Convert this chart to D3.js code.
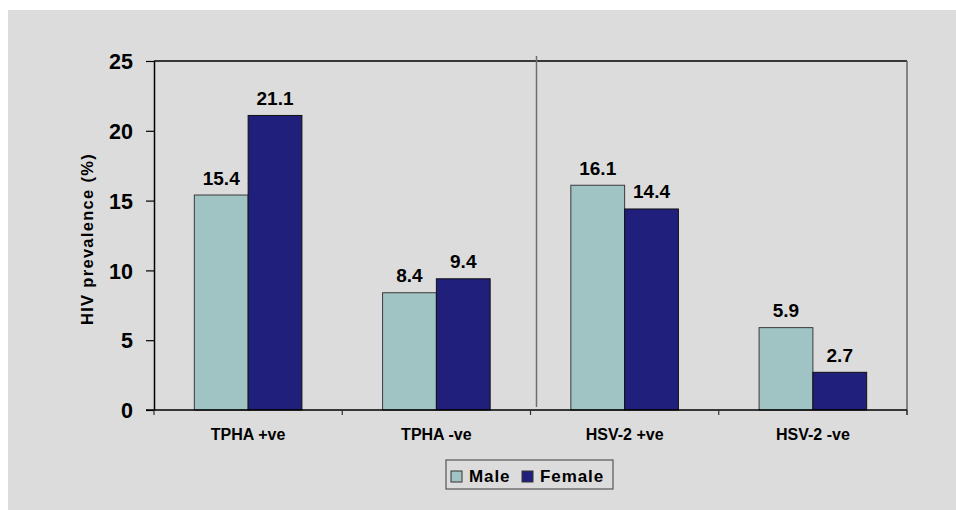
<!DOCTYPE html>
<html>
<head>
<meta charset="utf-8">
<script src="https://cdn.jsdelivr.net/npm/d3@7"></script>
<style>
  body { margin: 0; background: #fff; }
  svg { display: block; font-family: "Liberation Sans", Arial, sans-serif; font-weight: bold; }
</style>
</head>
<body>
<svg id="chart"></svg>
<script>
const categories = ["TPHA +ve", "TPHA -ve", "HSV-2 +ve", "HSV-2 -ve"];
const seriesNames = ["Male", "Female"];
const male = [15.4, 8.4, 16.1, 5.9];
const female = [21.1, 9.4, 14.4, 2.7];
const yTicks = [0, 5, 10, 15, 20, 25];

const colors = { Male: "#A0C3C4", Female: "#201F7B" };

const svg = d3.select("#chart")
    .attr("width", 956)
    .attr("height", 510);

// gray slide area
svg.append("rect")
    .attr("x", 8).attr("y", 10)
    .attr("width", 948).attr("height", 500)
    .attr("fill", "#DCDCDC");

const plotLeft = 154, plotRight = 907, plotTop = 61, plotBottom = 410;

const x = d3.scaleBand()
    .domain(categories)
    .range([plotLeft, plotRight])
    .paddingInner(0)
    .paddingOuter(0);

const xInner = d3.scaleBand()
    .domain(seriesNames)
    .range([0, x.bandwidth()])
    .paddingInner(0)
    .paddingOuter(0.75);

const y = d3.scaleLinear()
    .domain([0, 25])
    .range([plotBottom, plotTop]);

// frame: top black line, right gray line
svg.append("line")
    .attr("x1", plotLeft).attr("x2", plotRight)
    .attr("y1", plotTop).attr("y2", plotTop)
    .attr("stroke", "#000").attr("stroke-width", 1.5);
svg.append("line")
    .attr("x1", plotRight).attr("x2", plotRight)
    .attr("y1", plotTop).attr("y2", plotBottom + 5)
    .attr("stroke", "#666").attr("stroke-width", 1.5);

// divider between TPHA and HSV-2 groups
const divX = x(categories[2]) + 6;
svg.append("line")
    .attr("x1", divX).attr("x2", divX)
    .attr("y1", plotTop - 5).attr("y2", plotBottom - 3)
    .attr("stroke", "#6E6E6E").attr("stroke-width", 1.5);

// bars
const rows = categories.map((c, i) => ({ cat: c, Male: male[i], Female: female[i] }));

const groups = svg.selectAll("g.grp")
    .data(rows)
    .enter()
    .append("g")
    .attr("class", "grp")
    .attr("transform", d => `translate(${x(d.cat)},0)`);

groups.selectAll("rect")
    .data(d => seriesNames.map(s => ({ key: s, value: d[s] })))
    .enter()
    .append("rect")
    .attr("x", d => xInner(d.key))
    .attr("y", d => y(d.value))
    .attr("width", xInner.bandwidth())
    .attr("height", d => y(0) - y(d.value))
    .attr("fill", d => colors[d.key])
    .attr("stroke", d => d.key === "Male" ? "#3a3a3a" : "#111")
    .attr("stroke-width", 1);

groups.selectAll("text.val")
    .data(d => seriesNames.map(s => ({ key: s, value: d[s] })))
    .enter()
    .append("text")
    .attr("class", "val")
    .attr("x", d => xInner(d.key) + xInner.bandwidth() / 2)
    .attr("y", d => y(d.value) - 10.5)
    .attr("text-anchor", "middle")
    .style("font-size", "19px")
    .attr("fill", "#000")
    .text(d => d.value.toFixed(1));

// y axis
const yAxis = svg.append("g")
    .attr("transform", `translate(${plotLeft},0)`)
    .call(d3.axisLeft(y).tickValues(yTicks).tickSize(8).tickPadding(13).tickSizeOuter(0));
yAxis.select(".domain").attr("stroke", "#000").attr("stroke-width", 1.5);
yAxis.selectAll(".tick line").attr("stroke", "#000").attr("stroke-width", 1.2);
yAxis.selectAll(".tick text")
    .style("font-size", "21.5px")
    .style("font-family", "Liberation Sans, Arial, sans-serif")
    .style("font-weight", "bold")
    .attr("fill", "#000")
    .attr("dy", "0.36em");

// x axis line and boundary ticks
svg.append("line")
    .attr("x1", plotLeft - 8).attr("x2", plotRight)
    .attr("y1", plotBottom).attr("y2", plotBottom)
    .attr("stroke", "#000").attr("stroke-width", 1.5);

const boundaries = categories.map(c => x(c)).concat([plotRight]);
svg.selectAll("line.xtick")
    .data(boundaries)
    .enter()
    .append("line")
    .attr("class", "xtick")
    .attr("x1", d => d).attr("x2", d => d)
    .attr("y1", plotBottom).attr("y2", plotBottom + 5)
    .attr("stroke", "#333").attr("stroke-width", 1.2);

svg.selectAll("text.xlab")
    .data(categories)
    .enter()
    .append("text")
    .attr("class", "xlab")
    .attr("x", d => x(d) + x.bandwidth() / 2)
    .attr("y", 440)
    .attr("text-anchor", "middle")
    .style("font-size", "16px")
    .attr("fill", "#000")
    .text(d => d);

// y title
svg.append("text")
    .attr("transform", "translate(93,239) rotate(-90)")
    .attr("text-anchor", "middle")
    .style("font-size", "16.5px")
    .style("letter-spacing", "1.3px")
    .attr("fill", "#000")
    .text("HIV prevalence (%)");

// legend
const legend = svg.append("g").attr("transform", "translate(446,460)");
legend.append("rect")
    .attr("width", 167).attr("height", 29)
    .attr("fill", "#DCDCDC")
    .attr("stroke", "#555").attr("stroke-width", 1.2);

const legendX = { Male: 5, Female: 76 };
seriesNames.forEach(s => {
    legend.append("rect")
        .attr("x", legendX[s]).attr("y", 11)
        .attr("width", 11).attr("height", 11)
        .attr("fill", colors[s])
        .attr("stroke", "#333").attr("stroke-width", 1);
    legend.append("text")
        .attr("x", legendX[s] + 18).attr("y", 21.5)
        .style("font-size", "17px")
        .style("letter-spacing", "0.9px")
        .attr("fill", "#000")
        .text(s);
});
</script>
</body>
</html>
